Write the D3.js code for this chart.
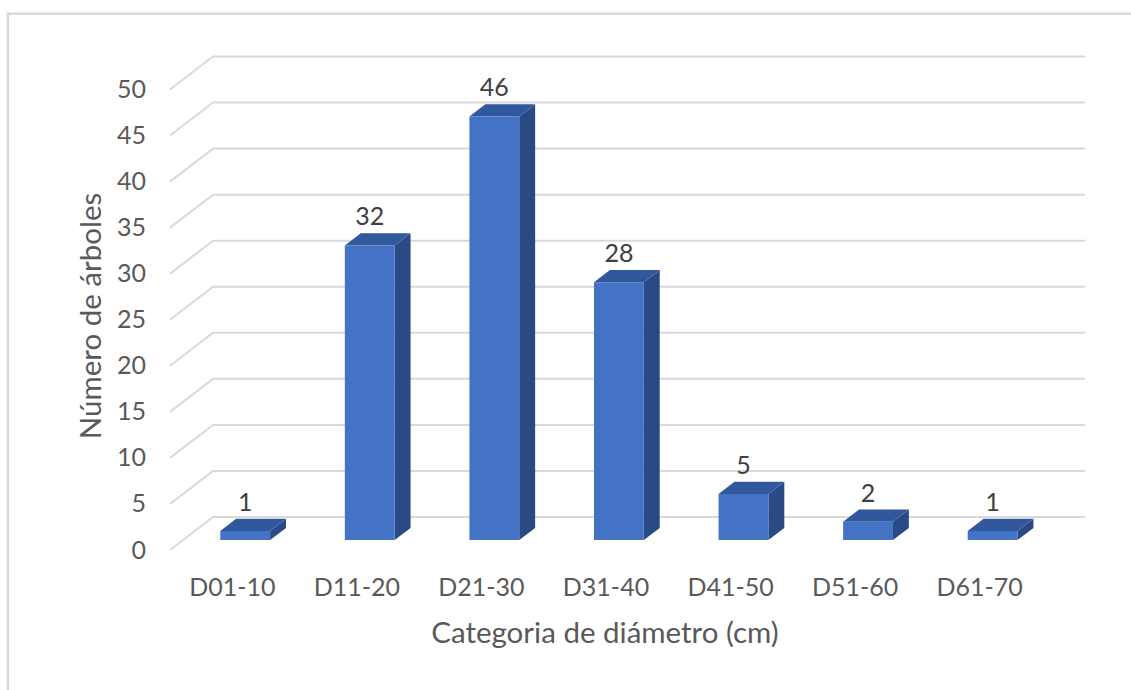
<!DOCTYPE html>
<html>
<head>
<meta charset="utf-8">
<script src="https://cdn.jsdelivr.net/npm/d3@7"></script>
<style>
  html, body { margin: 0; padding: 0; background: #fff; }
  svg { display: block; font-family: Lato, "Open Sans", sans-serif; }
</style>
</head>
<body>
<svg id="chart" width="1131" height="690"></svg>
<script>
// Tree counts per diameter class
const categories = ["D01-10", "D11-20", "D21-30", "D31-40", "D41-50", "D51-60", "D61-70"];
const trees = [1, 32, 46, 28, 5, 2, 1];
const yTicks = [0, 5, 10, 15, 20, 25, 30, 35, 40, 45, 50];
const yTitle = "Número de árboles";
const xTitle = "Categoria de diámetro (cm)";

const svg = d3.select("#chart");
const W = 1131, H = 690;

// Oblique 3D projection: full depth of the plot box shifts points by (dx, dy)
const depth = { dx: 43, dy: -33 };
const barZ0 = 0.3, barZ1 = 0.67;   // depth range occupied by the columns

const x = d3.scaleBand()
  .domain(categories)
  .range([170, 1042])
  .paddingInner(0.6)
  .paddingOuter(0.3);

const y = d3.scaleLinear().domain([0, 50]).range([550, 89.5]);

const proj = (px, py, z) => [px + depth.dx * z, py + depth.dy * z];

// Chart frame
svg.append("rect")
  .attr("x", 7.8).attr("y", 13.7)
  .attr("width", W + 50).attr("height", H + 50)
  .attr("fill", "none").attr("stroke", "#d9d9d9").attr("stroke-width", 2.5);

// Gridlines: floor diagonal then along the back wall
const x0 = x.range()[0], x1 = x.range()[1];
svg.append("g").selectAll("path")
  .data(yTicks)
  .join("path")
  .attr("d", v => {
    const a = proj(x0, y(v), 0), b = proj(x0, y(v), 1), c = proj(x1, y(v), 1);
    return `M${a}L${b}L${c}`;
  })
  .attr("fill", "none")
  .attr("stroke", "#d9d9d9")
  .attr("stroke-width", 2);

// Y axis labels
const yAxis = svg.append("g")
  .attr("transform", `translate(${x0},0)`)
  .call(d3.axisLeft(y).tickValues(yTicks).tickSize(0).tickPadding(24));
yAxis.select(".domain").remove();
yAxis.selectAll("text")
  .attr("font-family", "Lato, 'Open Sans', sans-serif")
  .attr("font-size", 25).attr("fill", "#595959");

// X axis labels
const xAxis = svg.append("g")
  .attr("transform", `translate(0,${y(0)})`)
  .call(d3.axisBottom(x).tickSize(0).tickPadding(28));
xAxis.select(".domain").remove();
xAxis.selectAll("text")
  .attr("font-family", "Lato, 'Open Sans', sans-serif")
  .attr("font-size", 25).attr("fill", "#595959");

// 3D columns
const bars = svg.append("g").selectAll("g")
  .data(categories.map((c, i) => ({ c, v: trees[i] })))
  .join("g");

const faces = d => {
  const l = x(d.c), r = x(d.c) + x.bandwidth();
  const b = y(0), t = y(d.v);
  const P = (px, py, z) => proj(px, py, z);
  return {
    front: [P(l, b, barZ0), P(r, b, barZ0), P(r, t, barZ0), P(l, t, barZ0)],
    side:  [P(r, b, barZ0), P(r, b, barZ1), P(r, t, barZ1), P(r, t, barZ0)],
    top:   [P(l, t, barZ0), P(r, t, barZ0), P(r, t, barZ1), P(l, t, barZ1)]
  };
};
const poly = pts => "M" + pts.map(p => p.join(",")).join("L") + "Z";

bars.append("path").attr("d", d => poly(faces(d).side)).attr("fill", "#2a4a85");
bars.append("path").attr("d", d => poly(faces(d).top)).attr("fill", "#31579c");
bars.append("path").attr("d", d => poly(faces(d).front)).attr("fill", "#4472c4");

// Value labels
bars.append("text")
  .attr("x", d => proj(x(d.c) + x.bandwidth() / 2, 0, barZ0)[0])
  .attr("y", d => proj(0, y(d.v), barZ0)[1] - 30)
  .attr("text-anchor", "middle")
  .attr("dominant-baseline", "central")
  .attr("font-size", 25)
  .attr("fill", "#404040")
  .text(d => d.v);

// Axis titles
svg.append("text")
  .attr("transform", "translate(89,316) rotate(-90)")
  .attr("text-anchor", "middle")
  .attr("dominant-baseline", "central")
  .attr("font-size", 29.5)
  .attr("fill", "#595959")
  .text(yTitle);

svg.append("text")
  .attr("x", 605).attr("y", 643)
  .attr("text-anchor", "middle")
  .attr("font-size", 29.5)
  .attr("fill", "#595959")
  .text(xTitle);
</script>
</body>
</html>
